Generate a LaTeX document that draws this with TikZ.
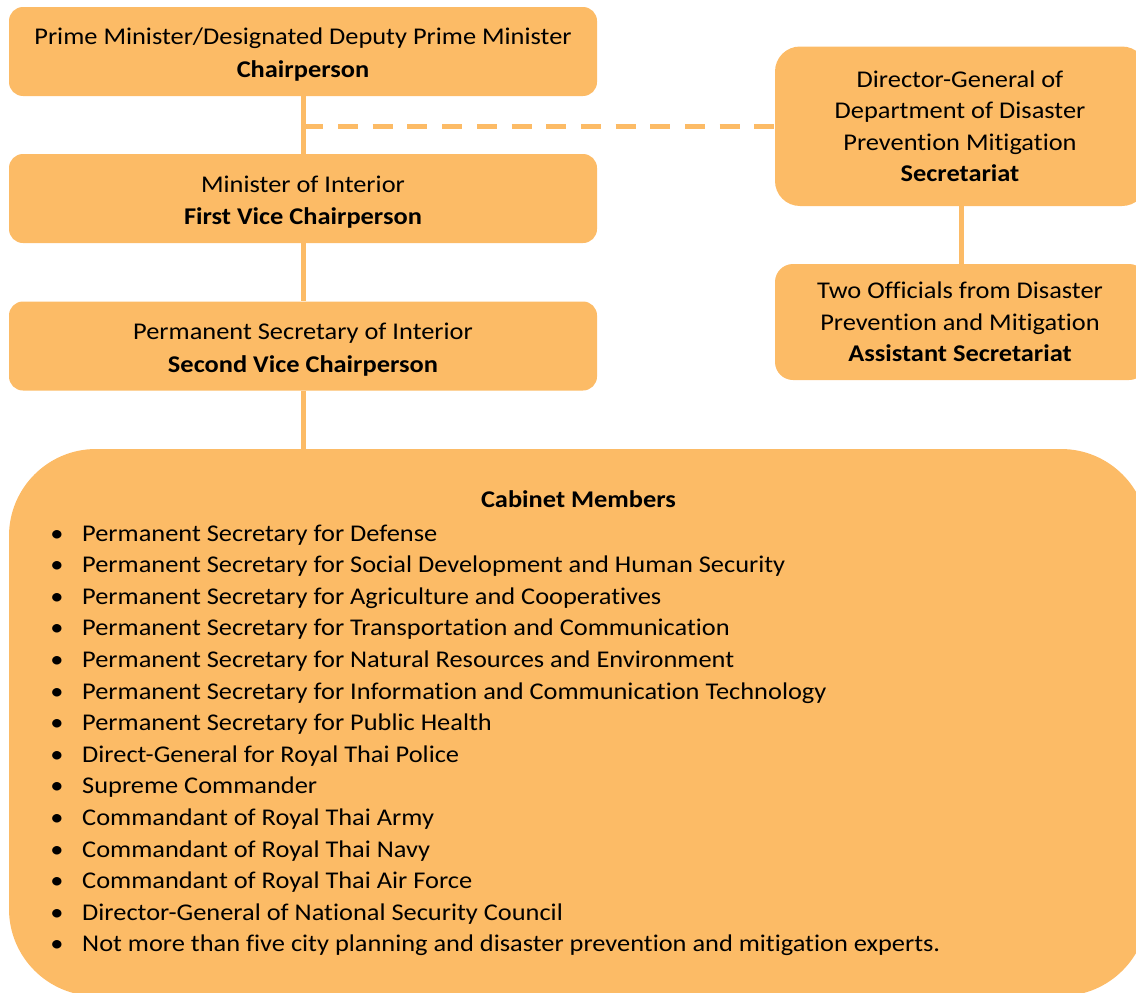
\documentclass[tikz,border=0pt]{standalone}
\usepackage{fontspec}
\setmainfont{Carlito}[FakeStretch=1.1, Ligatures=CommonOff]
\definecolor{boxfill}{HTML}{FCBB66}
\definecolor{ink}{HTML}{000000}
\begin{document}
\begin{tikzpicture}[x=1pt,y=-1pt,
  box/.style={fill=boxfill, draw=none, inner sep=0pt},
  link/.style={draw=boxfill, line width=5pt},
  dashlink/.style={link, dash pattern=on 20pt off 14.7pt},
  txt/.style={anchor=base, inner sep=0pt, text=ink, font=\fontsize{24}{29}\selectfont},
  bold/.style={txt, font=\fontsize{24}{29}\selectfont\bfseries}
]
\useasboundingbox (0,0) rectangle (1136,993);
\clip (0,0) rectangle (1136,993);

% boxes
\node[box, minimum width=588pt, minimum height=89pt, rounded corners=14pt] (chair) at (303,51.5) {};
\node[box, minimum width=588pt, minimum height=89pt, rounded corners=14pt] (first) at (303,198.5) {};
\node[box, minimum width=588pt, minimum height=89pt, rounded corners=14pt] (second) at (303,346) {};
\node[box, minimum width=372pt, minimum height=159.5pt, rounded corners=25pt] (sec) at (961,126.25) {};
\node[box, minimum width=372pt, minimum height=116pt, rounded corners=18pt] (asst) at (961,322) {};
\node[box, minimum width=1139pt, minimum height=547pt, rounded corners=87pt] (cabinet) at (578.5,722.5) {};

% connectors
\draw[link] (chair.south) -- (first.north);
\draw[link] (first.south) -- (second.north);
\draw[link] (second.south) -- (second.south |- cabinet.north);
\coordinate (tap) at (303.3,126.5);
\draw[dashlink] (tap) -- (tap -| sec.west);
\draw[link] (sec.south) -- (asst.north);

% box texts
\node[txt] (chairA) at (303,45) {Prime Minister/Designated Deputy Prime Minister};
\node[bold] (chairB) at (303,77.5) {Chairperson};
\node[txt] (firstA) at (303,192) {Minister of Interior};
\node[bold] (firstB) at (303,224.5) {First Vice Chairperson};
\node[txt] (secondA) at (303,339) {Permanent Secretary of Interior};
\node[bold] (secondB) at (303,372) {Second Vice Chairperson};

\node[txt] (secA) at (960,87.3) {Director-General of};
\node[txt] (secB) at (960,118.8) {Department of Disaster};
\node[txt] (secC) at (960,150.2) {Prevention Mitigation};
\node[bold] (secD) at (960,181.7) {Secretariat};

\node[txt] (asstA) at (960,298.3) {Two Officials from Disaster};
\node[txt] (asstB) at (960,330) {Prevention and Mitigation};
\node[bold] (asstC) at (960,361.7) {Assistant Secretariat};

% cabinet members
\node[bold] (cabTitle) at (578.5,507.5) {Cabinet Members};
\foreach \item [count=\i] in {
  Permanent Secretary for Defense,
  Permanent Secretary for Social Development and Human Security,
  Permanent Secretary for Agriculture and Cooperatives,
  Permanent Secretary for Transportation and Communication,
  Permanent Secretary for Natural Resources and Environment,
  Permanent Secretary for Information and Communication Technology,
  Permanent Secretary for Public Health,
  Direct-General for Royal Thai Police,
  Supreme Commander,
  Commandant of Royal Thai Army,
  Commandant of Royal Thai Navy,
  Commandant of Royal Thai Air Force,
  Director-General of National Security Council,
  Not more than five city planning and disaster prevention and mitigation experts.
}{
  \node[txt] (bul\i) at (57,{541+31.6*(\i-1)}) {\textbullet};
  \node[txt, anchor=base west] (mem\i) at (82,{541+31.6*(\i-1)}) {\item};
}
\end{tikzpicture}
\end{document}
